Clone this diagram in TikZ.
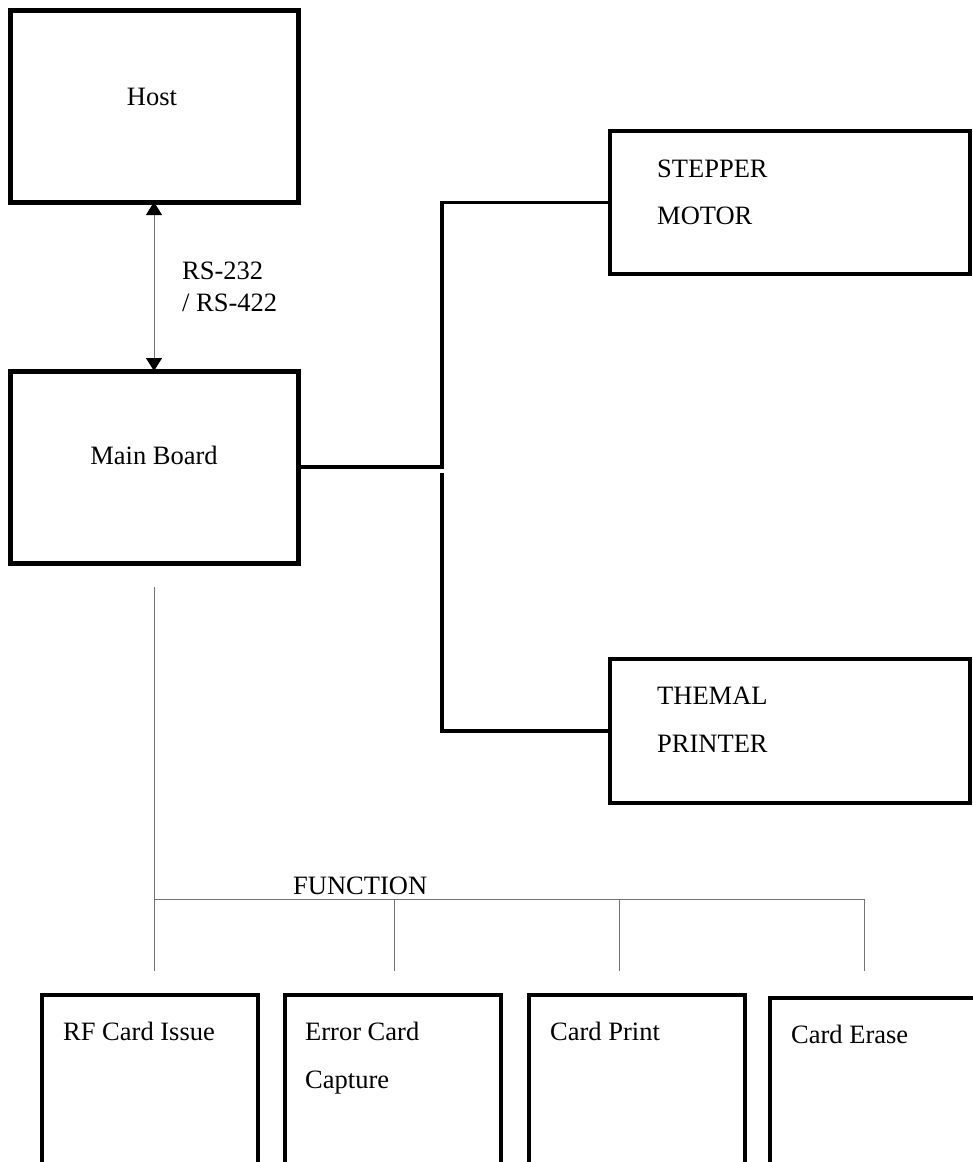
\documentclass[tikz,border=0pt]{standalone}
\usepackage{fontspec}
\setmainfont{Liberation Serif}
\usetikzlibrary{arrows.meta}
\begin{document}
\begin{tikzpicture}[x=1pt,y=-1pt,
  box/.style={draw, line width=#1, inner sep=0pt, outer sep=0pt},
  box/.default=5pt,
  lbl/.style={font=\fontsize{26.5}{32}\selectfont, inner sep=0pt, anchor=base west},
  clbl/.style={lbl, anchor=base},
  conn/.style={line width=3.5pt},
  thinline/.style={draw=black!55, line width=1pt},
  dblarrow/.style={arrows={Triangle[width=16pt,length=13pt,color=black]-Triangle[width=16pt,length=13pt,color=black]}}]
\useasboundingbox (0,0) rectangle (973,1162);
\clip (0,0) rectangle (973,1162);

% main boxes
\node[box, minimum width=288pt, minimum height=192pt] (host) at (154,106) {};
\node[box, minimum width=288pt, minimum height=192pt] (main) at (154,467) {};
\node[box=4pt, minimum width=360pt, minimum height=143pt] (stepper) at (790,202.5) {};
\node[box=4pt, minimum width=360pt, minimum height=144pt] (themal) at (790,731) {};

% bottom boxes
\node[box=3.5pt, minimum width=216pt, minimum height=185pt] (rf) at (150,1087.5) {};
\node[box=3.5pt, minimum width=216pt, minimum height=185pt] (err) at (393,1087.5) {};
\node[box=3.5pt, minimum width=216pt, minimum height=185pt] (prt) at (637,1087.5) {};
\node[box=3.5pt, minimum width=220pt, minimum height=182pt] (ers) at (880,1089) {};

% texts
\node[clbl] (thost) at (152,105) {Host};
\node[clbl] (tmain) at (154,464) {Main Board};
\node[lbl] (trs1) at (182,279) {RS-232};
\node[lbl] (trs2) at (182,311) {/ RS-422};
\node[lbl] (tst1) at (657,177) {STEPPER};
\node[lbl] (tst2) at (657,224) {MOTOR};
\node[lbl] (tth1) at (657,704) {THEMAL};
\node[lbl] (tth2) at (657,752) {PRINTER};
\node[lbl] (tfun) at (293,894) {FUNCTION};
\node[lbl] (trf) at (63,1040) {RF Card Issue};
\node[lbl] (ter1) at (305,1040) {Error Card};
\node[lbl] (ter2) at (305,1088) {Capture};
\node[lbl] (tprt) at (550,1040) {Card Print};
\node[lbl] (ters) at (791,1043) {Card Erase};

% host <-> main board
\draw[thinline, dblarrow] (host.south) -- (main.north);

% thick connectors to motor and printer
\coordinate (j1) at (442,467);
\coordinate (j3) at (442,473);
\draw[conn] (main.east) -- (j1) |- (stepper.west);
\draw[conn] (j3) |- (themal.west);

% thin function bus
\coordinate (t0) at (154,587);
\coordinate (b1) at (154,899);
\coordinate (b2) at (394,899);
\coordinate (b3) at (619,899);
\coordinate (b4) at (864,899);
\coordinate (d1) at (154,971);
\coordinate (d2) at (394,971);
\coordinate (d3) at (619,971);
\coordinate (d4) at (864,971);
\draw[thinline] (t0) -- (b1) -- (b4);
\draw[thinline] (b1) -- (d1);
\draw[thinline] (b2) -- (d2);
\draw[thinline] (b3) -- (d3);
\draw[thinline] (b4) -- (d4);
\end{tikzpicture}
\end{document}
